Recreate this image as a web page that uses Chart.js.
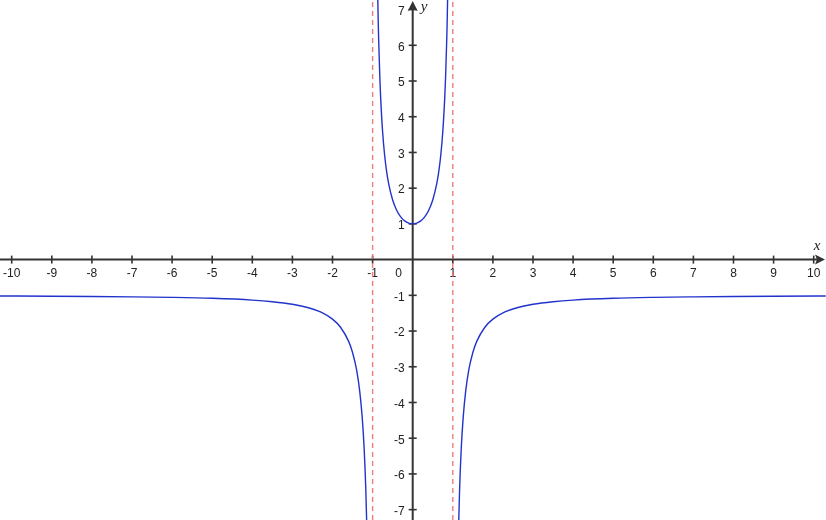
<!DOCTYPE html>
<html>
<head>
<meta charset="utf-8">
<script src="https://cdn.jsdelivr.net/npm/chart.js@4.4.1/dist/chart.umd.min.js"></script>
<style>
  html, body { margin: 0; padding: 0; background: #fff; }
  #wrap { width: 826px; height: 520px; }
</style>
</head>
<body>
<div id="wrap"><canvas id="c" width="826" height="520"></canvas></div>
<script>
// Left branch (x < -1)
const leftX = [-10.3, -9, -8, -7, -6, -5, -4, -3.5, -3, -2.6, -2.3, -2, -1.8, -1.6, -1.5, -1.4, -1.32, -1.26, -1.21, -1.17, -1.14];
const leftY = [-1.019, -1.025, -1.032, -1.042, -1.057, -1.083, -1.133, -1.178, -1.25, -1.347, -1.466, -1.667, -1.893, -2.282, -2.6, -3.083, -3.694, -4.404, -5.309, -6.421, -7.676];
// Middle branch (-1 < x < 1)
const midX = [-0.88, -0.86, -0.85, -0.82, -0.8, -0.75, -0.7, -0.65, -0.6, -0.5, -0.4, -0.3, -0.2, -0.1, 0, 0.1, 0.2, 0.3, 0.4, 0.5, 0.6, 0.65, 0.7, 0.75, 0.8, 0.82, 0.85, 0.86, 0.88];
const midY = [7.865, 6.680, 6.207, 5.105, 4.556, 3.571, 2.922, 2.463, 2.125, 1.667, 1.381, 1.198, 1.083, 1.020, 1, 1.020, 1.083, 1.198, 1.381, 1.667, 2.125, 2.463, 2.922, 3.571, 4.556, 5.105, 6.207, 6.680, 7.865];
// Right branch (x > 1)
const rightX = [1.14, 1.17, 1.21, 1.26, 1.32, 1.4, 1.5, 1.6, 1.8, 2, 2.3, 2.6, 3, 3.5, 4, 5, 6, 7, 8, 9, 10.3];
const rightY = [-7.676, -6.421, -5.309, -4.404, -3.694, -3.083, -2.6, -2.282, -1.893, -1.667, -1.466, -1.347, -1.25, -1.178, -1.133, -1.083, -1.057, -1.042, -1.032, -1.025, -1.019];
// Vertical asymptotes
const asymptotes = [-1, 1];
// Tick labels
const xTicks = [-10, -9, -8, -7, -6, -5, -4, -3, -2, -1, 1, 2, 3, 4, 5, 6, 7, 8, 9, 10];
const yTicks = [-7, -6, -5, -4, -3, -2, -1, 1, 2, 3, 4, 5, 6, 7];
const xRange = [-10.292, 10.307];
const yRange = [-7.29, 7.268];

const pts = (xs, ys) => xs.map((x, i) => ({ x: x, y: ys[i] }));
const curveStyle = { borderColor: '#2233cc', borderWidth: 1.4, pointRadius: 0, fill: false, cubicInterpolationMode: 'monotone' };

const datasets = [
  Object.assign({ data: pts(leftX, leftY) }, curveStyle),
  Object.assign({ data: pts(midX, midY) }, curveStyle),
  Object.assign({ data: pts(rightX, rightY) }, curveStyle)
];
asymptotes.forEach(a => {
  datasets.unshift({
    data: [{ x: a, y: yRange[0] }, { x: a, y: yRange[1] }],
    borderColor: 'rgba(238,110,110,0.9)', borderWidth: 1.4, borderDash: [5, 4],
    pointRadius: 0, fill: false
  });
});

const axesPlugin = {
  id: 'axes',
  beforeDatasetsDraw(chart) {
    const ctx = chart.ctx;
    const xs = chart.scales.x, ys = chart.scales.y;
    const x0 = xs.getPixelForValue(0), y0 = ys.getPixelForValue(0);
    ctx.save();
    ctx.strokeStyle = '#333';
    ctx.fillStyle = '#333';
    ctx.lineWidth = 2;
    // x axis
    ctx.beginPath(); ctx.moveTo(0, y0); ctx.lineTo(820, y0); ctx.stroke();
    // y axis
    ctx.beginPath(); ctx.moveTo(x0, 520); ctx.lineTo(x0, 6); ctx.stroke();
    // arrows
    ctx.beginPath(); ctx.moveTo(825, y0); ctx.lineTo(815, y0 - 5); ctx.lineTo(817, y0); ctx.lineTo(815, y0 + 5); ctx.closePath(); ctx.fill();
    ctx.beginPath(); ctx.moveTo(x0, 1); ctx.lineTo(x0 - 5, 11); ctx.lineTo(x0, 9); ctx.lineTo(x0 + 5, 11); ctx.closePath(); ctx.fill();
    // ticks
    ctx.lineWidth = 1.6;
    xTicks.forEach(t => {
      const p = xs.getPixelForValue(t);
      ctx.beginPath(); ctx.moveTo(p, y0 - 4); ctx.lineTo(p, y0 + 4); ctx.stroke();
    });
    yTicks.forEach(t => {
      const p = ys.getPixelForValue(t);
      ctx.beginPath(); ctx.moveTo(x0 - 4, p); ctx.lineTo(x0 + 4, p); ctx.stroke();
    });
    // labels
    ctx.fillStyle = '#222';
    ctx.font = '12px "Liberation Sans", Arial, sans-serif';
    ctx.textAlign = 'center'; ctx.textBaseline = 'middle';
    xTicks.forEach(t => {
      ctx.fillText(String(t), xs.getPixelForValue(t), y0 + 14);
    });
    ctx.fillText('0', x0 - 14, y0 + 14);
    ctx.textAlign = 'right';
    yTicks.forEach(t => {
      ctx.fillText(String(t), x0 - 8, ys.getPixelForValue(t) + 2);
    });
    // axis names
    ctx.font = 'italic 15px "Liberation Serif", "DejaVu Serif", serif';
    ctx.textAlign = 'center';
    ctx.fillText('x', 817, y0 - 14);
    ctx.textAlign = 'left';
    ctx.fillText('y', x0 + 8, 7);
    ctx.restore();
  }
};

new Chart(document.getElementById('c'), {
  type: 'line',
  data: { datasets: datasets },
  options: {
    responsive: false,
    animation: false,
    layout: { padding: 0 },
    plugins: { legend: { display: false }, tooltip: { enabled: false } },
    scales: {
      x: { type: 'linear', min: xRange[0], max: xRange[1], display: false },
      y: { type: 'linear', min: yRange[0], max: yRange[1], display: false }
    }
  },
  plugins: [axesPlugin]
});
</script>
</body>
</html>
